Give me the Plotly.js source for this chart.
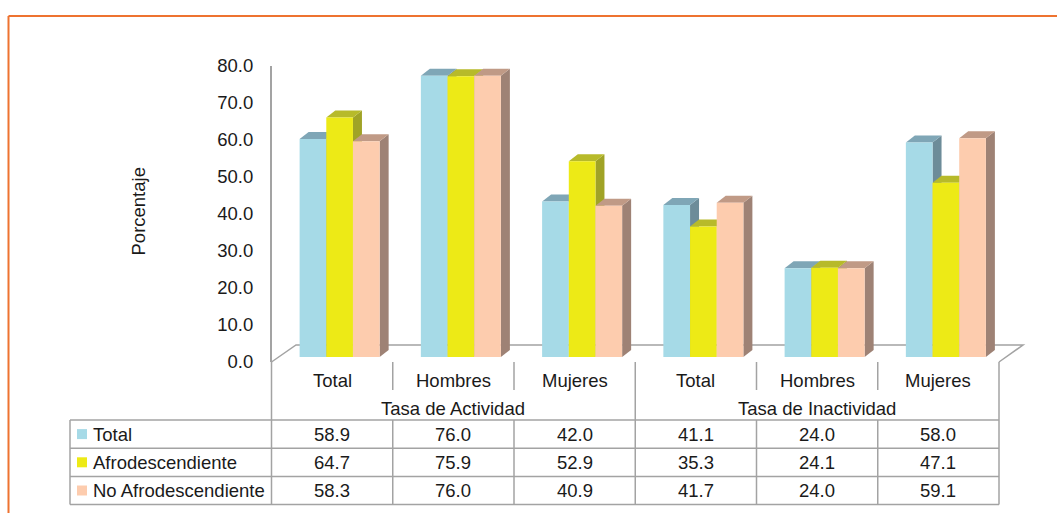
<!DOCTYPE html>
<html>
<head>
<meta charset="utf-8">
<script src="https://cdn.plot.ly/plotly-3.0.1.min.js"></script>
<style>html,body{margin:0;padding:0;background:#fff;}#chart{width:1057px;height:513px;}</style>
</head>
<body>
<div id="chart"></div>
<script>
// ---- data ----
var categories = ['Total', 'Hombres', 'Mujeres', 'Total', 'Hombres', 'Mujeres'];
var groups = ['Tasa de Actividad', 'Tasa de Inactividad'];
var seriesNames = ['Total', 'Afrodescendiente', 'No Afrodescendiente'];
var total = [58.9, 76.0, 42.0, 41.1, 24.0, 58.0];
var afro = [64.7, 75.9, 52.9, 35.3, 24.1, 47.1];
var noAfro = [58.3, 76.0, 40.9, 41.7, 24.0, 59.1];
var yTicks = [0, 10, 20, 30, 40, 50, 60, 70, 80];

// ---- styling ----
var W = 1057, H = 513;
var FONT = '"Liberation Sans", Arial, sans-serif';
var FS = 18.5;
var TXT = '#1a1a1a';
var GRID = '#a3a3a3';
var front = ['#a6dae7', '#edea16', '#fdccae'];
var topC = ['#7fa6b6', '#b7ba2a', '#c09a86'];
var sideC = ['#6d8c99', '#a0a326', '#9e8275'];
var series = [total, afro, noAfro];

function px(x) { return x / W; }
function py(y) { return (H - y) / H; }

// table geometry (pixels)
var tL = 271.5, tR = 999, colW = (tR - tL) / 6;
var legL = 70;
var yFloor = 362, yCatSep = 390, yRow0 = 420, rowH = 28.2;
var bgap = 0.34, nS = 3;
var bw = (1 - bgap) / nS;
var dxPx = 9, dyPx = 7;
var yPxPerUnit = (362 - 66) / 80;
var dx = dxPx / colW, dy = dyPx / yPxPerUnit;

var xIdx = categories.map(function (c, i) { return i; });

var traces = series.map(function (s, k) {
  return {
    type: 'bar', x: xIdx, y: s, name: seriesNames[k],
    marker: { color: front[k], line: { width: 0 } },
    hoverinfo: 'y', showlegend: false, xaxis: 'x', yaxis: 'y'
  };
});
// invisible trace to activate the tick axis
traces.push({ type: 'scatter', x: [0], y: [0], yaxis: 'y2', mode: 'markers', marker: { opacity: 0 }, showlegend: false, hoverinfo: 'skip' });

var shapes = [];
// orange frame
shapes.push({ type: 'line', xref: 'paper', yref: 'paper', x0: px(8.5), y0: py(16), x1: px(1057), y1: py(16), line: { color: '#ee7330', width: 2 } });
shapes.push({ type: 'line', xref: 'paper', yref: 'paper', x0: px(8.5), y0: py(16), x1: px(8.5), y1: py(513), line: { color: '#ee7330', width: 2 } });

// floor
shapes.push({ type: 'path', xref: 'paper', yref: 'paper', layer: 'below',
  path: 'M' + px(tL) + ',' + py(yFloor) + ' L' + px(296) + ',' + py(345) + ' L' + px(1023) + ',' + py(345) + ' L' + px(tR) + ',' + py(yFloor),
  line: { color: GRID, width: 1.5 }, fillcolor: 'rgba(0,0,0,0)' });

// 3D faces computed from data
for (var i = 0; i < categories.length; i++) {
  for (var k = 0; k < nS; k++) {
    var v = series[k][i];
    var cx = i + (k - (nS - 1) / 2) * bw;
    var l = cx - bw / 2, r = cx + bw / 2;
    shapes.push({ type: 'path', xref: 'x', yref: 'y', layer: 'below', line: { width: 0 }, fillcolor: sideC[k],
      path: 'M' + r + ',0 L' + r + ',' + v + ' L' + (r + dx) + ',' + (v + dy) + ' L' + (r + dx) + ',' + dy + ' Z' });
    shapes.push({ type: 'path', xref: 'x', yref: 'y', layer: 'below', line: { width: 0 }, fillcolor: topC[k],
      path: 'M' + l + ',' + v + ' L' + (l + dx) + ',' + (v + dy) + ' L' + (r + dx) + ',' + (v + dy) + ' L' + r + ',' + v + ' Z' });
  }
}

// table lines
function hline(x0, x1, y) { shapes.push({ type: 'line', xref: 'paper', yref: 'paper', x0: px(x0), x1: px(x1), y0: py(y), y1: py(y), line: { color: GRID, width: 1.5 } }); }
function vline(x, y0, y1) { shapes.push({ type: 'line', xref: 'paper', yref: 'paper', x0: px(x), x1: px(x), y0: py(y0), y1: py(y1), line: { color: GRID, width: 1.5 } }); }
var yBottom = yRow0 + rowH * 3;
for (var rI = 0; rI <= 3; rI++) hline(legL, tR, yRow0 + rI * rowH);
vline(legL, yRow0, yBottom);
for (var c = 0; c <= 6; c++) {
  var xx = tL + c * colW;
  if (c === 0 || c === 3 || c === 6) vline(xx, yFloor, yBottom);
  else { vline(xx, yFloor, yCatSep); vline(xx, yRow0, yBottom); }
}

var ann = [];
function txt(t, x, y, opts) {
  var a = { text: t, xref: 'paper', yref: 'paper', x: px(x), y: py(y), showarrow: false,
    xanchor: 'center', yanchor: 'middle', font: { family: FONT, size: FS, color: TXT } };
  for (var key in (opts || {})) a[key] = opts[key];
  ann.push(a);
}
categories.forEach(function (cat, i) { txt(cat, tL + colW * (i + 0.5), 380.5); });
groups.forEach(function (g, j) { txt(g, tL + colW * (3 * j + 1.5), 408.5); });
series.forEach(function (s, k) {
  var yc = yRow0 + rowH * (k + 0.5);
  s.forEach(function (v, i) { txt(v.toFixed(1), tL + colW * (i + 0.5), yc); });
  txt(seriesNames[k], 91, yc, { xanchor: 'left' });
  shapes.push({ type: 'rect', xref: 'paper', yref: 'paper', x0: px(77), x1: px(87), y0: py(yc - 5), y1: py(yc + 5), fillcolor: front[k], line: { width: 0 } });
});
txt('Porcentaje', 137.5, 212, { textangle: -90 });

var yDomain = [py(362), py(66)];
var shift = 5 / yPxPerUnit;

var layout = {
  width: W, height: H,
  margin: { l: 0, r: 0, t: 0, b: 0 },
  paper_bgcolor: '#fff', plot_bgcolor: 'rgba(0,0,0,0)',
  showlegend: false,
  barmode: 'group', bargap: bgap, bargroupgap: 0,
  xaxis: { domain: [px(tL + 7.5), px(tR + 7.5)], range: [-0.5, 5.5], visible: false, fixedrange: true },
  yaxis: { domain: yDomain, range: [-shift, 80 - shift], visible: false, fixedrange: true },
  yaxis2: { overlaying: 'y', anchor: 'free', position: px(270), side: 'left', range: [0, 80],
    tickvals: yTicks, ticktext: yTicks.map(function (t) { return t.toFixed(1); }),
    showline: true, linecolor: GRID, linewidth: 1.5, showgrid: false, zeroline: false,
    ticks: '', ticklabelstandoff: 13, tickfont: { family: FONT, size: FS, color: TXT }, fixedrange: true },
  shapes: shapes,
  annotations: ann
};

Plotly.newPlot('chart', traces, layout, { displayModeBar: false, staticPlot: true });
</script>
</body>
</html>
